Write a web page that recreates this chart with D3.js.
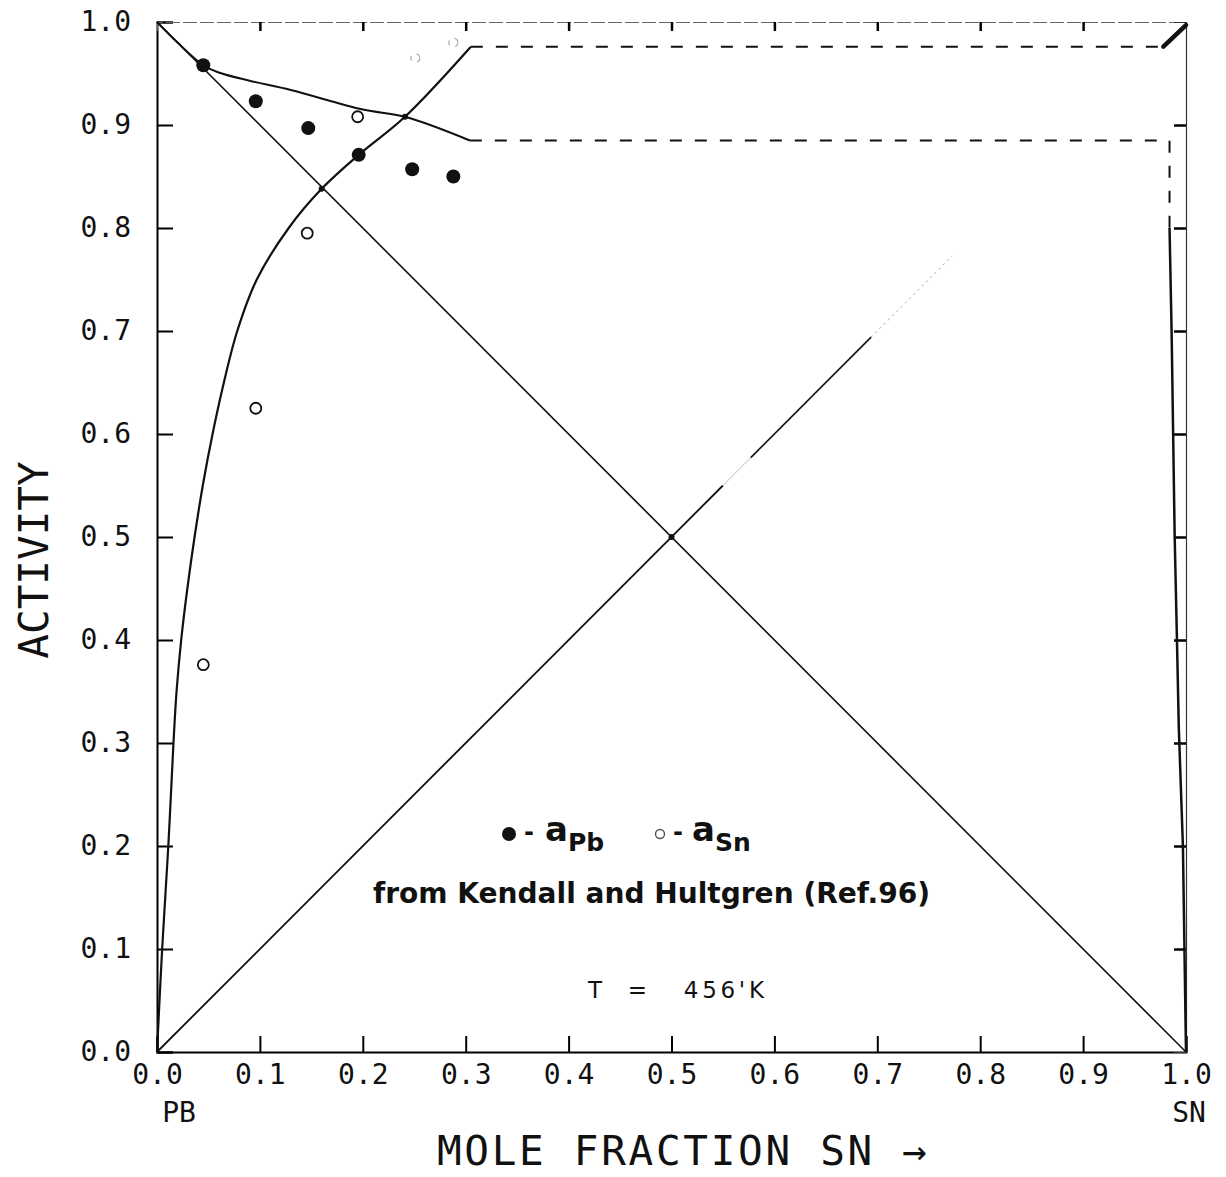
<!DOCTYPE html>
<html>
<head>
<meta charset="utf-8">
<script src="https://cdn.jsdelivr.net/npm/d3@7"></script>
<style>
  body { margin: 0; background: #fff; }
  svg { display: block; }
</style>
</head>
<body>
<div id="chart"></div>
<script>
// tick values for both axes
const ticks = [0, 0.1, 0.2, 0.3, 0.4, 0.5, 0.6, 0.7, 0.8, 0.9, 1.0];

// measured activities (Kendall and Hultgren)
const aPbObsX = [0.045, 0.096, 0.147, 0.196, 0.248, 0.288];
const aPbObsY = [0.958, 0.923, 0.897, 0.871, 0.857, 0.850];
const aSnObsX = [0.045, 0.096, 0.146, 0.195];
const aSnObsY = [0.376, 0.625, 0.795, 0.908];
// barely printed open points near the top
const aSnFaintX = [0.251, 0.288];
const aSnFaintY = [0.965, 0.980];

// calculated curves
const pbCurveX = [0, 0.02, 0.045, 0.06, 0.09, 0.13, 0.2, 0.241, 0.304];
const pbCurveY = [1.0, 0.98, 0.958, 0.951, 0.943, 0.934, 0.915, 0.908, 0.885];
const pbDashX = [0.304, 0.984, 0.984];
const pbDashY = [0.885, 0.885, 0.80];
const pbTailX = [0.984, 0.986, 0.989, 0.991, 0.993, 0.997, 1.0];
const pbTailY = [0.80, 0.70, 0.50, 0.41, 0.315, 0.20, 0.0];

const snCurveX = [0, 0.005, 0.011, 0.016, 0.019, 0.0235, 0.0295, 0.0365, 0.0445, 0.054, 0.065, 0.078, 0.097, 0.128, 0.16, 0.196, 0.241, 0.305];
const snCurveY = [0, 0.1, 0.2, 0.3, 0.35, 0.4, 0.45, 0.5, 0.55, 0.6, 0.65, 0.7, 0.75, 0.8, 0.838, 0.871, 0.908, 0.976];
const snDashX = [0.305, 0.978];
const snDashY = [0.976, 0.976];
const snTailX = [0.978, 1.0];
const snTailY = [0.976, 0.997];

// ideal (Raoult) lines
const raoultPbX = [0, 1];
const raoultPbY = [1, 0];
const raoultSnX = [0, 0.55, 0.577, 0.694, 0.773];
const raoultSnY = [0, 0.55, 0.577, 0.694, 0.773];

const W = 1226, H = 1177;
const margin = {left: 157, top: 22, right: 40, bottom: 125};

const svg = d3.select("#chart").append("svg")
    .attr("width", W)
    .attr("height", H)
    .style("background", "#fff");

const x = d3.scaleLinear().domain([0, 1]).range([margin.left, W - margin.right]);
const y = d3.scaleLinear().domain([0, 1]).range([H - margin.bottom, margin.top]);

const zip = (xs, ys) => xs.map((v, i) => [v, ys[i]]);
const line = d3.line().x(d => x(d[0])).y(d => y(d[1]));
const smooth = d3.line().x(d => x(d[0])).y(d => y(d[1])).curve(d3.curveCatmullRom.alpha(0.5));

const monoFont = "'DejaVu Sans Mono', monospace";

// left axis
svg.append("g")
    .attr("transform", `translate(${x(0)},0)`)
    .call(d3.axisLeft(y).tickValues(ticks).tickFormat(d3.format(".1f")).tickSize(-16).tickPadding(26))
    .call(g => g.select(".domain").attr("stroke-width", 2))
    .call(g => g.selectAll(".tick line").attr("stroke-width", 2))
    .call(g => g.selectAll("text").attr("font-family", monoFont).attr("font-size", 28).attr("fill", "#111"));

// bottom axis
svg.append("g")
    .attr("transform", `translate(0,${y(0)})`)
    .call(d3.axisBottom(x).tickValues(ticks).tickFormat(d3.format(".1f")).tickSize(-16).tickPadding(12))
    .call(g => g.select(".domain").attr("stroke-width", 2))
    .call(g => g.selectAll(".tick line").attr("stroke-width", 2))
    .call(g => g.selectAll("text").attr("font-family", monoFont).attr("font-size", 28).attr("fill", "#111"));

// top axis (faint in the scan)
svg.append("g")
    .attr("transform", `translate(0,${y(1)})`)
    .call(d3.axisTop(x).tickValues(ticks.slice(1, -1)).tickFormat("").tickSize(-9))
    .call(g => g.select(".domain").attr("stroke", "#666").attr("stroke-width", 1).attr("stroke-dasharray", "14 3"))
    .call(g => g.selectAll(".tick line").attr("stroke-width", 2.5));

// right axis
svg.append("g")
    .attr("transform", `translate(${x(1)},0)`)
    .call(d3.axisRight(y).tickValues(ticks.slice(1, -1)).tickFormat("").tickSize(-12))
    .call(g => g.select(".domain").attr("stroke", "#333").attr("stroke-width", 1.2))
    .call(g => g.selectAll(".tick line").attr("stroke-width", 2.5));

// Raoult lines
svg.append("path")
    .attr("d", line(zip(raoultPbX, raoultPbY)))
    .attr("fill", "none").attr("stroke", "#111").attr("stroke-width", 1.6);

const rs = zip(raoultSnX, raoultSnY);
svg.append("path")
    .attr("d", line(rs.slice(0, 2)))
    .attr("fill", "none").attr("stroke", "#111").attr("stroke-width", 1.8);
svg.append("path")
    .attr("d", line(rs.slice(1, 3)))
    .attr("fill", "none").attr("stroke", "#bbb").attr("stroke-width", 1);
svg.append("path")
    .attr("d", line(rs.slice(2, 4)))
    .attr("fill", "none").attr("stroke", "#111").attr("stroke-width", 1.6);
svg.append("path")
    .attr("d", line(rs.slice(3, 5)))
    .attr("fill", "none").attr("stroke", "#999").attr("stroke-width", 1).attr("stroke-dasharray", "2 4");

// a_Pb curve
svg.append("path")
    .attr("d", smooth(zip(pbCurveX, pbCurveY)))
    .attr("fill", "none").attr("stroke", "#111").attr("stroke-width", 2);
svg.append("path")
    .attr("d", line(zip(pbDashX, pbDashY)))
    .attr("fill", "none").attr("stroke", "#111").attr("stroke-width", 2).attr("stroke-dasharray", "12 13");
svg.append("path")
    .attr("d", line(zip(pbTailX, pbTailY)))
    .attr("fill", "none").attr("stroke", "#111").attr("stroke-width", 2.5);

// a_Sn curve
svg.append("path")
    .attr("d", smooth(zip(snCurveX, snCurveY)))
    .attr("fill", "none").attr("stroke", "#111").attr("stroke-width", 2.2);
svg.append("path")
    .attr("d", line(zip(snDashX, snDashY)))
    .attr("fill", "none").attr("stroke", "#111").attr("stroke-width", 2).attr("stroke-dasharray", "12 13");
svg.append("path")
    .attr("d", line(zip(snTailX, snTailY)))
    .attr("fill", "none").attr("stroke", "#111").attr("stroke-width", 4.5).attr("stroke-linecap", "round");

// intersection knots
svg.selectAll("circle.knot")
    .data([[0.16, 0.838], [0.241, 0.908], [0.5, 0.5]])
    .join("circle").attr("class", "knot")
    .attr("cx", d => x(d[0])).attr("cy", d => y(d[1])).attr("r", 3).attr("fill", "#111");

// measured points
svg.selectAll("circle.pb")
    .data(zip(aPbObsX, aPbObsY))
    .join("circle").attr("class", "pb")
    .attr("cx", d => x(d[0])).attr("cy", d => y(d[1])).attr("r", 7)
    .attr("fill", "#111");
svg.selectAll("circle.sn")
    .data(zip(aSnObsX, aSnObsY))
    .join("circle").attr("class", "sn")
    .attr("cx", d => x(d[0])).attr("cy", d => y(d[1])).attr("r", 5.5)
    .attr("fill", "none").attr("stroke", "#111").attr("stroke-width", 1.8);
svg.selectAll("circle.snf")
    .data(zip(aSnFaintX, aSnFaintY))
    .join("circle").attr("class", "snf")
    .attr("cx", d => x(d[0])).attr("cy", d => y(d[1])).attr("r", 4.5)
    .attr("fill", "none").attr("stroke", "#aaa").attr("stroke-width", 1.2)
    .attr("stroke-dasharray", "5 6");

// legend
const sans = "'DejaVu Sans', sans-serif";
const leg = svg.append("g").attr("font-family", sans).attr("font-weight", "bold").attr("fill", "#111");
leg.append("circle").attr("cx", 509).attr("cy", 834).attr("r", 7).attr("fill", "#111");
leg.append("text").attr("x", 524).attr("y", 840).attr("font-size", 24).text("-");
leg.append("text").attr("x", 545).attr("y", 841).attr("font-size", 34)
    .text("a")
    .append("tspan").attr("font-size", 25).attr("dy", 10).text("Pb");
leg.append("circle").attr("cx", 660).attr("cy", 834).attr("r", 4.5)
    .attr("fill", "none").attr("stroke", "#555").attr("stroke-width", 1.4);
leg.append("text").attr("x", 673).attr("y", 840).attr("font-size", 24).text("-");
leg.append("text").attr("x", 692).attr("y", 841).attr("font-size", 34)
    .text("a")
    .append("tspan").attr("font-size", 25).attr("dy", 10).text("Sn");
leg.append("text").attr("x", 373).attr("y", 903).attr("font-size", 28)
    .attr("textLength", 557).attr("lengthAdjust", "spacingAndGlyphs")
    .text("from Kendall and Hultgren (Ref.96)");

svg.append("text").attr("x", 588).attr("y", 998)
    .attr("font-family", sans).attr("font-size", 23).attr("fill", "#111")
    .attr("xml:space", "preserve")
    .attr("textLength", 176).attr("lengthAdjust", "spacing")
    .text("T  =   456'K");

// axis titles
svg.append("text").attr("x", 157).attr("y", 1122)
    .attr("font-family", monoFont).attr("font-size", 28).attr("fill", "#111")
    .attr("text-anchor", "middle").attr("dx", 22).text("PB");
svg.append("text").attr("x", x(1)).attr("y", 1122)
    .attr("font-family", monoFont).attr("font-size", 28).attr("fill", "#111")
    .attr("text-anchor", "middle").attr("dx", 3).text("SN");

svg.append("text").attr("x", 437).attr("y", 1165)
    .attr("font-family", monoFont).attr("font-size", 41).attr("fill", "#111")
    .attr("textLength", 490).attr("lengthAdjust", "spacing")
    .text("MOLE FRACTION SN \u2192");

svg.append("text")
    .attr("transform", "translate(48,560) rotate(-90)")
    .attr("font-family", monoFont).attr("font-size", 41).attr("fill", "#111")
    .attr("text-anchor", "middle")
    .text("ACTIVITY");
</script>
</body>
</html>
